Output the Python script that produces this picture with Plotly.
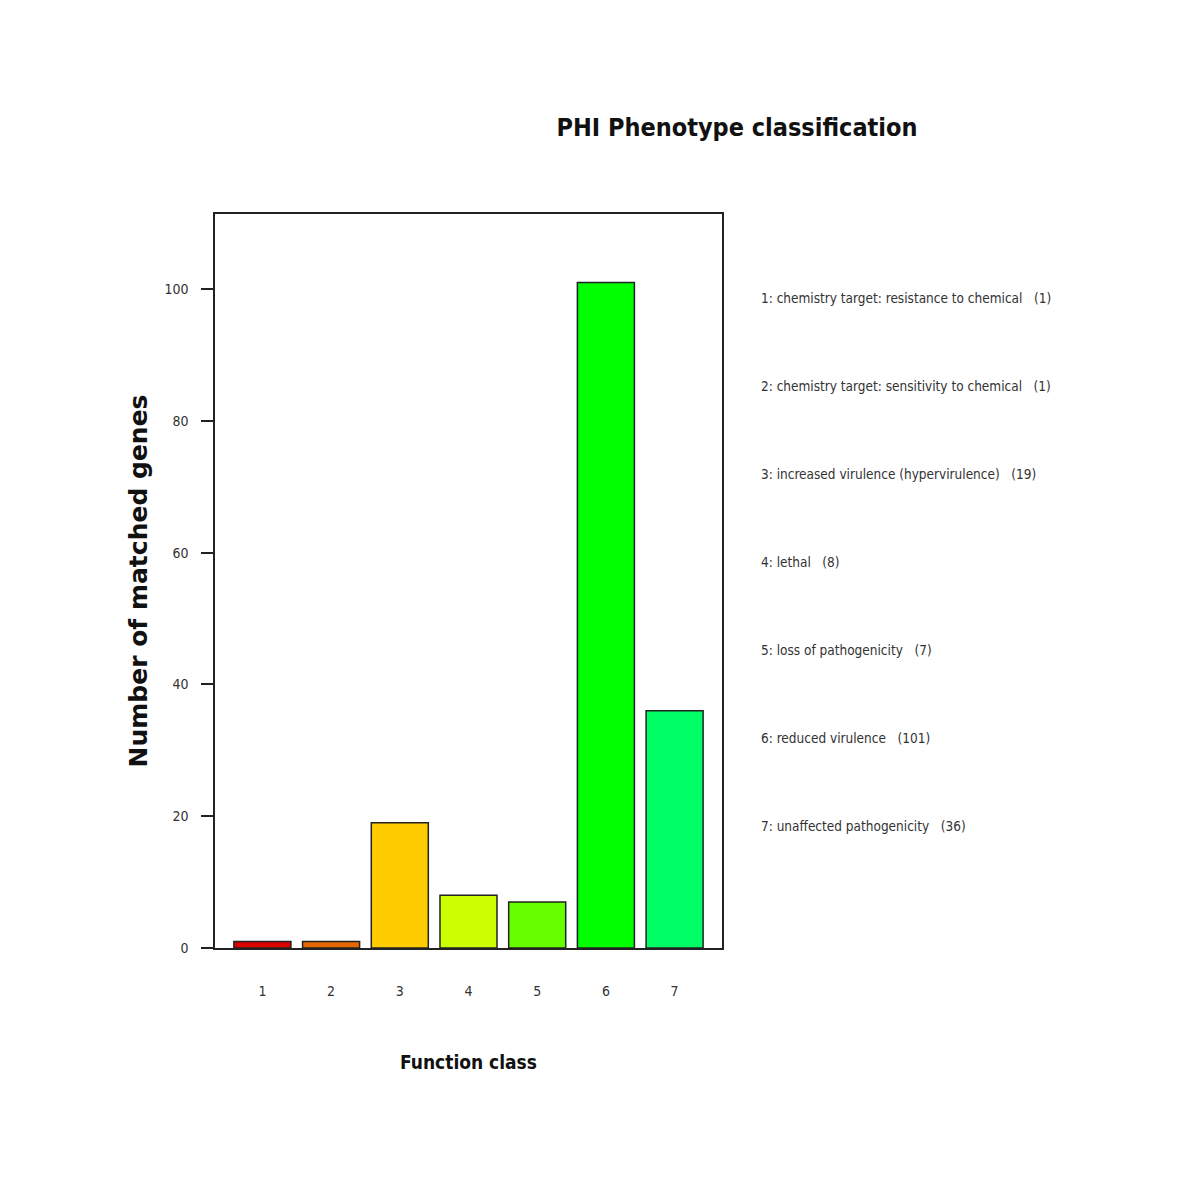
import plotly.graph_objects as go

categories = ["1", "2", "3", "4", "5", "6", "7"]
values = [1, 1, 19, 8, 7, 101, 36]
descriptions = [
    "chemistry target: resistance to chemical",
    "chemistry target: sensitivity to chemical",
    "increased virulence (hypervirulence)",
    "lethal",
    "loss of pathogenicity",
    "reduced virulence",
    "unaffected pathogenicity",
]
colors = ["#DD0000", "#E86800", "#FFCC00", "#CCFF00", "#66FF00", "#00FF00", "#00FF66"]
ytick_vals = [0, 20, 40, 60, 80, 100]

NARROW = "Liberation Sans Narrow, DejaVu Sans Condensed, Arial Narrow, Liberation Sans, sans-serif"

xpos = list(range(1, len(categories) + 1))

fig = go.Figure()
fig.add_trace(go.Bar(
    x=xpos, y=values, width=0.83,
    marker=dict(color=colors, line=dict(color="#222222", width=1.5)),
    showlegend=False,
))

# legend-like text on the right
for i, (c, d, v) in enumerate(zip(categories, descriptions, values)):
    fig.add_annotation(
        xref="paper", yref="paper",
        x=1.072, y=0.9, xanchor="left", yanchor="middle",
        yshift=-88 * i - 11,
        text=f"{c}: {d}   ({v})",
        showarrow=False,
        font=dict(family=NARROW, size=13.5, color="#333333"),
    )

fig.update_layout(
    width=1200, height=1200,
    margin=dict(l=215, r=478, t=214, b=252),
    plot_bgcolor="white", paper_bgcolor="white",
    title=dict(
        text="<b>PHI Phenotype classification</b>",
        x=737 / 1200, xanchor="center", y=1 - 127 / 1200, yanchor="middle",
        font=dict(family=NARROW, size=25, color="#111111"),
    ),
    xaxis=dict(
        range=[0.31, 7.69],
        tickvals=xpos, ticktext=categories,
        showline=True, linecolor="#222222", linewidth=1.5, mirror=True,
        ticks="", showgrid=False, zeroline=False,
        tickfont=dict(family=NARROW, size=14, color="#333333"),
        ticklabelstandoff=29,
        title=dict(text="<b>Function class</b>", standoff=58,
                   font=dict(family=NARROW, size=19, color="#111111")),
    ),
    yaxis=dict(
        range=[0, 111.4],
        tickvals=ytick_vals,
        showline=True, linecolor="#222222", linewidth=1.5, mirror=True,
        ticks="outside", ticklen=12, tickwidth=1.5, tickcolor="#222222",
        showgrid=False, zeroline=False,
        tickfont=dict(family=NARROW, size=14, color="#333333"),
        ticklabelstandoff=10,
        title=dict(text="<b>Number of matched genes</b>", standoff=10,
                   font=dict(family="DejaVu Sans", size=25, color="#111111")),
    ),
)

fig.write_html("out.html")
